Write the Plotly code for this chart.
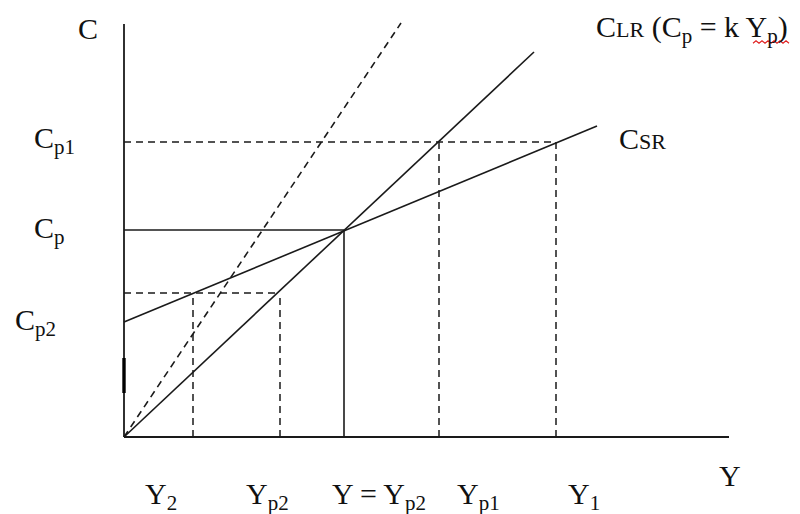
import plotly.graph_objects as go

# Levels of consumption (vertical) and income (horizontal), arbitrary units
c_levels = {"Cp1": 295, "Cp": 207, "Cp2": 144}
y_levels = {"Y2": 69, "Yp2": 156, "Y0": 220, "Yp1": 315, "Y1": 432}

# Lines: (x0, y0, x1, y1)
lr_line = [0, 0, 410, 385]        # C_LR (Cp = k Yp)
steep_line = [0, 0, 277, 414]     # dashed steeper ray
sr_line = [0, 115, 473, 311]      # C_SR

axis_x_end = 605
axis_y_end = 413

FONT = "Liberation Serif"
LC = "#1a1a1a"
fig = go.Figure()

def seg(x0, y0, x1, y1, dash="solid", width=1.5, color=LC):
    fig.add_trace(go.Scatter(x=[x0, x1], y=[y0, y1], mode="lines",
                             line=dict(color=color, width=width, dash=dash),
                             hoverinfo="skip", showlegend=False))

DASH = "7px,5px"
# axes
seg(0, 0, 0, axis_y_end, width=1.8)
seg(0, 0, axis_x_end, 0, width=1.8)
seg(0, 44, 0, 79, width=3.4, color="#000000")

# main lines
seg(*lr_line, width=1.6)
seg(*sr_line, width=1.6)
seg(*steep_line, dash=DASH, width=1.6)

# Cp1 guides
seg(0, c_levels["Cp1"], y_levels["Y1"], c_levels["Cp1"], dash=DASH)
seg(y_levels["Yp1"], 0, y_levels["Yp1"], c_levels["Cp1"], dash=DASH)
seg(y_levels["Y1"], 0, y_levels["Y1"], c_levels["Cp1"], dash=DASH)
# Cp guides (solid)
seg(0, c_levels["Cp"], y_levels["Y0"], c_levels["Cp"], width=1.6)
seg(y_levels["Y0"], 0, y_levels["Y0"], c_levels["Cp"], width=1.6)
# Cp2 guides
seg(0, c_levels["Cp2"], y_levels["Yp2"], c_levels["Cp2"], dash=DASH)
seg(y_levels["Y2"], 0, y_levels["Y2"], c_levels["Cp2"], dash=DASH)
seg(y_levels["Yp2"], 0, y_levels["Yp2"], c_levels["Cp2"], dash=DASH)

SZ = 30
SMALL = 22
def label(text, x, y, xanchor="center", yanchor="middle", size=SZ):
    fig.add_annotation(x=x, y=y, text=text, showarrow=False, xanchor=xanchor,
                       yanchor=yanchor, font=dict(family=FONT, size=size, color="#111111"))

label("C", -36, 409)
label("C<sub>p1</sub>", -92, 297, xanchor="left")
label("C<sub>p</sub>", -92, 207, xanchor="left")
label("C<sub>p2</sub>", -111, 115, xanchor="left")
label(f"C<span style='font-size:{SMALL}px'>LR</span> (C<sub>p</sub> = k Y<sub>p</sub>)", 470, 408, xanchor="left")
label(f"C<span style='font-size:{SMALL}px'>SR</span>", 493, 299, xanchor="left")
label("Y", 606, -38)
bot = -59
label("Y<sub>2</sub>", 37, bot)
label("Y<sub>p2</sub>", 143, bot)
label("Y = Y<sub>p2</sub>", 255, bot)
label("Y<sub>p1</sub>", 354, bot)
label("Y<sub>1</sub>", 460, bot)

# red spell-check squiggle under "Yp" in the C_LR label (decoration)
sq_x0, sq_x1, sq_y = 629, 666, 395
pts = []
xx, k = sq_x0, 0
while xx <= sq_x1:
    pts.append(f"{xx},{sq_y + (1.2 if k % 2 else -1.2)}")
    xx += 3
    k += 1
fig.add_shape(type="path", path="M " + " L ".join(pts), xref="x", yref="y",
              line=dict(color="#e02020", width=1.2))

# The page body adds an 8px offset; shrink the figure so it fills the 800x514 window
fig.update_layout(width=792, height=506, margin=dict(l=0, r=0, t=0, b=0),
                  paper_bgcolor="white", plot_bgcolor="white",
                  xaxis=dict(range=[-116, 676], visible=False, fixedrange=True),
                  yaxis=dict(range=[-77, 429], visible=False, fixedrange=True))
fig.write_html("out.html")
